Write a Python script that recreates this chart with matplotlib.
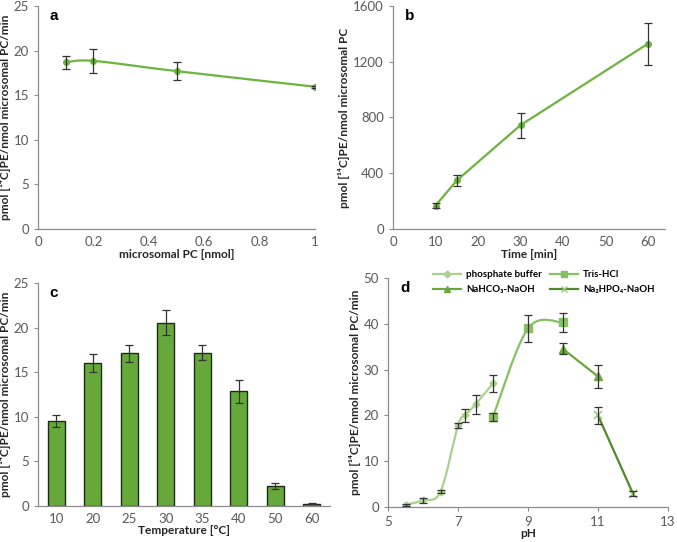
import matplotlib.pyplot as plt
import numpy as np
from matplotlib.path import Path
from matplotlib.patches import PathPatch
from matplotlib.lines import Line2D

plt.rcParams['font.family'] = ['Lato', 'DejaVu Sans']

ylab_rate = 'pmol [¹⁴C]PE/nmol microsomal PC/min'

# panel a
pc_x = [0.1, 0.2, 0.5, 1.0]
pc_y = [18.7, 18.85, 17.7, 15.95]
pc_err = [0.75, 1.35, 1.05, 0.1]

# panel b
time_x = [10, 15, 30, 60]
time_y = [168, 348, 745, 1330]
time_err = [15, 40, 90, 150]

# panel c
temp_labels = ['10', '20', '25', '30', '35', '40', '50', '60']
temp_y = [9.55, 16.0, 17.1, 20.55, 17.2, 12.85, 2.25, 0.25]
temp_err = [0.65, 1.0, 1.0, 1.4, 0.8, 1.25, 0.3, 0.05]

# panel d
phos_x = [5.5, 6.0, 6.5, 7.0, 7.2, 7.5, 8.0]
phos_y = [0.5, 1.45, 3.35, 17.8, 20.0, 22.4, 27.0]
phos_err = [0.2, 0.5, 0.3, 0.6, 1.5, 2.0, 1.9]
tris_x = [8, 9, 10]
tris_y = [19.7, 39.0, 40.3]
tris_err = [0.9, 3.0, 2.1]
bicarb_x = [10, 11]
bicarb_y = [34.5, 28.5]
bicarb_err = [1.2, 2.5]
hpo_x = [11, 12]
hpo_y = [20.0, 2.9]
hpo_err = [1.8, 0.6]

green = '#6db33f'
c_phos = '#a9d18e'
c_tris = '#86c062'
c_bic = '#6aa83c'
c_hpo = '#4f8a2b'
axis_gray = '#8c8c8c'
lab_size = 8.6


def smooth_line(ax, xs, ys, color, lw=1.6):
    # Catmull-Rom style bezier through data points, like the spreadsheet "smoothed line"
    pts = np.column_stack([xs, ys]).astype(float)
    n = len(pts)
    verts = [pts[0]]
    codes = [Path.MOVETO]
    for i in range(n - 1):
        p0 = pts[i - 1] if i > 0 else pts[i]
        p1 = pts[i]
        p2 = pts[i + 1]
        p3 = pts[i + 2] if i + 2 < n else pts[i + 1]
        c1 = p1 + (p2 - p0) / 6.0
        c2 = p2 - (p3 - p1) / 6.0
        verts += [c1, c2, p2]
        codes += [Path.CURVE4] * 3
    ax.add_patch(PathPatch(Path(verts, codes), fill=False, edgecolor=color, lw=lw, zorder=2))


def style(ax, xticks=False):
    for s in ['top', 'right']:
        ax.spines[s].set_visible(False)
    for s in ['left', 'bottom']:
        ax.spines[s].set_color(axis_gray)
        ax.spines[s].set_linewidth(0.9)
    ax.tick_params(colors=axis_gray, labelcolor='#595959', labelsize=9.5, length=3, width=0.8)
    if not xticks:
        ax.tick_params(axis='x', length=0, pad=5)


def err(ax, xs, ys, es):
    ax.errorbar(xs, ys, yerr=es, fmt='none', ecolor='#333333', elinewidth=0.9,
                capsize=3, capthick=0.9, zorder=3)


def letter(ax, x, s):
    ax.text(x, 0.985, s, transform=ax.transAxes, fontsize=11, fontweight='bold',
            family='Liberation Sans', va='top')


fig = plt.figure(figsize=(6.77, 5.42), dpi=100)

# a
ax = fig.add_axes([38 / 677, 1 - 229 / 542, 277 / 677, 223 / 542])
smooth_line(ax, pc_x, pc_y, green)
ax.plot(pc_x, pc_y, 'o', color=green, ms=4, zorder=2)
err(ax, pc_x, pc_y, pc_err)
ax.set_xlim(0, 1)
ax.set_ylim(0, 25)
ax.set_xticks([0, 0.2, 0.4, 0.6, 0.8, 1])
ax.set_xticklabels(['0', '0.2', '0.4', '0.6', '0.8', '1'])
ax.set_yticks([0, 5, 10, 15, 20, 25])
style(ax)
ax.set_xlabel('microsomal PC [nmol]', fontsize=lab_size, fontweight='bold', color='#262626', labelpad=1)
ax.set_ylabel(ylab_rate, fontsize=lab_size, fontweight='bold', color='#262626', labelpad=2)
letter(ax, 0.043, 'a')

# b
ax = fig.add_axes([393 / 677, 1 - 229 / 542, 272 / 677, 223 / 542])
ax.plot(time_x, time_y, '-o', color=green, ms=4, lw=1.6, zorder=2)
err(ax, time_x, time_y, time_err)
ax.set_xlim(0, 64)
ax.set_ylim(0, 1600)
ax.set_xticks([0, 10, 20, 30, 40, 50, 60])
ax.set_yticks([0, 400, 800, 1200, 1600])
style(ax)
ax.set_xlabel('Time [min]', fontsize=lab_size, fontweight='bold', color='#262626', labelpad=1)
ax.set_ylabel('pmol [¹⁴C]PE/nmol microsomal PC', fontsize=lab_size, fontweight='bold', color='#262626', labelpad=2)
letter(ax, 0.045, 'b')

# c
ax = fig.add_axes([38 / 677, 1 - 506 / 542, 292 / 677, 223 / 542])
xpos = np.arange(len(temp_labels))
ax.bar(xpos, temp_y, width=0.47, color='#66a83a', edgecolor='#1e2a14', linewidth=1.0, zorder=2)
err(ax, xpos, temp_y, temp_err)
ax.set_xlim(-0.5, len(temp_labels) - 0.5)
ax.set_ylim(0, 25)
ax.set_xticks(xpos)
ax.set_xticklabels(temp_labels)
ax.set_yticks([0, 5, 10, 15, 20, 25])
style(ax)
ax.set_xlabel('Temperature [°C]', fontsize=lab_size, fontweight='bold', color='#262626', labelpad=0)
ax.set_ylabel(ylab_rate, fontsize=lab_size, fontweight='bold', color='#262626', labelpad=2)
letter(ax, 0.04, 'c')

# d
ax = fig.add_axes([388 / 677, 1 - 507 / 542, 280 / 677, 229 / 542])
smooth_line(ax, phos_x, phos_y, c_phos)
ax.plot(phos_x, phos_y, 'D', color=c_phos, ms=3.5, zorder=2)
smooth_line(ax, tris_x, tris_y, c_tris)
ax.plot(tris_x, tris_y, 's', color=c_tris, ms=6, zorder=2)
ax.plot(bicarb_x, bicarb_y, '-^', color=c_bic, ms=6, lw=1.6, zorder=2)
ax.plot(hpo_x, hpo_y, '-', color=c_hpo, lw=1.6, zorder=2)
ax.plot(hpo_x, hpo_y, 'x', color='#9acb7a', ms=6, mew=1.2, zorder=2)
err(ax, phos_x, phos_y, phos_err)
err(ax, tris_x, tris_y, tris_err)
err(ax, bicarb_x, bicarb_y, bicarb_err)
err(ax, hpo_x, hpo_y, hpo_err)
ax.set_xlim(5, 13)
ax.set_ylim(0, 50)
ax.set_xticks([5, 7, 9, 11, 13])
ax.set_yticks([0, 10, 20, 30, 40, 50])
style(ax, xticks=True)
ax.set_xlabel('pH', fontsize=lab_size, fontweight='bold', color='#262626', labelpad=0)
ax.set_ylabel(ylab_rate, fontsize=lab_size, fontweight='bold', color='#262626', labelpad=2)
letter(ax, 0.045, 'd')
handles = [
    Line2D([], [], color=c_phos, marker='D', ms=3.5, lw=1.6),
    Line2D([], [], color=c_bic, marker='^', ms=5, lw=1.6),
    Line2D([], [], color=c_tris, marker='s', ms=5, lw=1.6),
    Line2D([], [], color=c_hpo, marker='x', mec='#9acb7a', ms=5, lw=1.6),
]
labels = ['phosphate buffer', 'NaHCO₃-NaOH', 'Tris-HCl', 'Na₂HPO₄-NaOH']
ax.legend(handles, labels, ncol=2, loc='upper left', bbox_to_anchor=(0.14, 1.06),
          frameon=False, prop={'weight': 'bold', 'size': 7}, handlelength=2.9,
          columnspacing=0.8, labelspacing=0.6, handletextpad=0.5, borderaxespad=0.2)

fig.savefig('out.png', dpi=100)
